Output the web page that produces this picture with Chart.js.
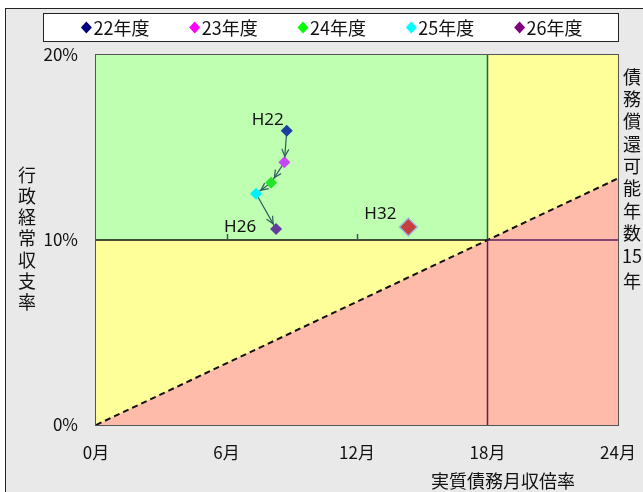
<!DOCTYPE html>
<html lang="ja">
<head>
<meta charset="utf-8">
<script src="https://cdn.jsdelivr.net/npm/chart.js@4.4.0/dist/chart.umd.min.js"></script>
<style>
  html, body { margin: 0; padding: 0; background: #fff; }
  #wrap { position: relative; width: 643px; height: 492px; overflow: hidden; }
  #frame { position: absolute; left: 5px; top: 8px; right: 0; bottom: 0; background: #e9e9e9; border-left: 1px solid #222; border-top: 1px solid #222; }
  canvas { position: absolute; left: 0; top: 0; }
</style>
</head>
<body>
<div id="wrap"><div id="frame"></div><canvas id="chart" width="643" height="492"></canvas></div>
<script>
const years = ['22年度', '23年度', '24年度', '25年度', '26年度'];
const debtRatio = [8.77, 8.66, 8.05, 7.36, 8.28];   // 実質債務月収倍率 (月)
const balanceRate = [15.9, 14.2, 13.1, 12.5, 10.6];  // 行政経常収支率 (%)
const pointColors = ['#1a3f9e', '#c548f5', '#22e62a', '#00f0ff', '#653c9b'];
const legendColors = ['#000080', '#ff00ff', '#00ff00', '#00ffff', '#800080'];
const pointLabels = ['H22', '', '', '', 'H26'];
const targetLabel = 'H32';
const targetPoint = { x: 14.36, y: 10.7 };
const xTicks = [0, 6, 12, 18, 24];
const yTicks = [0, 10, 20];
const midTicks = [6, 12];
const monthLimit = 18;   // 18月
const rateLimit = 10;    // 10%
const repayYears = 15;   // 債務償還可能年数
const boundaryLine = [{ x: 0, y: 0 }, { x: 24, y: 13.33 }];

const cjk = '"Noto Sans CJK JP", sans-serif';

function seg(a, b) {
    return [a, b];
}

const areaDefaults = { showLine: true, pointRadius: 0, borderWidth: 0 };

const datasets = [
    Object.assign({}, areaDefaults, {
        data: seg({ x: 0, y: 20 }, { x: 24, y: 20 }),
        fill: 'origin', backgroundColor: '#ffff99', order: 20
    }),
    Object.assign({}, areaDefaults, {
        data: seg({ x: 0, y: 20 }, { x: monthLimit, y: 20 }),
        fill: { value: rateLimit }, backgroundColor: '#bfffb1', order: 19
    }),
    {
        data: boundaryLine, showLine: true, pointRadius: 0, fill: 'origin',
        backgroundColor: '#ffbbaa', borderColor: '#111', borderWidth: 2,
        borderDash: [6, 4], order: 18
    },
    {
        data: seg({ x: 0, y: rateLimit }, { x: monthLimit, y: rateLimit }),
        showLine: true, pointRadius: 0, borderColor: '#111', borderWidth: 1.5, order: 10
    },
    {
        data: seg({ x: monthLimit, y: rateLimit }, { x: 24, y: rateLimit }),
        showLine: true, pointRadius: 0, borderColor: '#5a1f5a', borderWidth: 1.5, order: 10
    },
    {
        data: seg({ x: monthLimit, y: rateLimit }, { x: monthLimit, y: 20 }),
        showLine: true, pointRadius: 0, borderColor: '#2f5c4a', borderWidth: 1.5, order: 10
    },
    {
        data: seg({ x: monthLimit, y: 0 }, { x: monthLimit, y: rateLimit }),
        showLine: true, pointRadius: 0, borderColor: '#5a1f5a', borderWidth: 1.5, order: 10
    },
    {
        data: debtRatio.map((x, i) => ({ x: x, y: balanceRate[i] })),
        showLine: true, pointRadius: 0, borderColor: '#2e5b5b', borderWidth: 1.2, order: 5
    }
];

years.forEach((label, i) => {
    datasets.push({
        label: label,
        data: [{ x: debtRatio[i], y: balanceRate[i] }],
        pointStyle: 'rectRot', pointRadius: 6,
        backgroundColor: pointColors[i], borderColor: pointColors[i], borderWidth: 0,
        order: 1
    });
});

datasets.push({
    label: targetLabel,
    data: [targetPoint],
    pointStyle: 'rectRot', pointRadius: 9,
    backgroundColor: '#c44040', borderColor: '#9cc0e0', borderWidth: 1.5,
    order: 1
});

// arrows, small ticks, border, labels
const overlay = {
    id: 'overlay',
    afterDatasetsDraw(chart) {
        const { ctx, chartArea, scales } = chart;
        const xs = scales.x, ys = scales.y;
        ctx.save();

        // ticks on the 10% line
        ctx.strokeStyle = '#2e5b5b';
        ctx.lineWidth = 1.5;
        midTicks.forEach(v => {
            const px = Math.round(xs.getPixelForValue(v)) + 0.5;
            const py = ys.getPixelForValue(rateLimit);
            ctx.beginPath();
            ctx.moveTo(px, py);
            ctx.lineTo(px, py - 6);
            ctx.stroke();
        });

        // arrow heads
        ctx.lineWidth = 1.2;
        for (let i = 1; i < debtRatio.length; i++) {
            const x0 = xs.getPixelForValue(debtRatio[i - 1]), y0 = ys.getPixelForValue(balanceRate[i - 1]);
            const x1 = xs.getPixelForValue(debtRatio[i]), y1 = ys.getPixelForValue(balanceRate[i]);
            const ang = Math.atan2(y1 - y0, x1 - x0);
            const tx = x1 - Math.cos(ang) * 6, ty = y1 - Math.sin(ang) * 6;
            ctx.beginPath();
            ctx.moveTo(tx - Math.cos(ang - 0.45) * 8, ty - Math.sin(ang - 0.45) * 8);
            ctx.lineTo(tx, ty);
            ctx.lineTo(tx - Math.cos(ang + 0.45) * 8, ty - Math.sin(ang + 0.45) * 8);
            ctx.stroke();
        }

        // plot border
        ctx.strokeStyle = '#555';
        ctx.lineWidth = 1;
        ctx.strokeRect(chartArea.left - 0.5, chartArea.top - 0.5,
            chartArea.right - chartArea.left + 1, chartArea.bottom - chartArea.top + 1);
        ctx.restore();
    },
    afterDraw(chart) {
        const { ctx, scales } = chart;
        const xs = scales.x, ys = scales.y;
        ctx.save();
        ctx.textAlign = 'center';
        ctx.textBaseline = 'middle';
        ctx.fillStyle = '#111';

        // point labels
        ctx.font = '17px "Noto Sans", sans-serif';
        const offs = [[-19, -11], null, null, null, [-36, -2]];
        pointLabels.forEach((t, i) => {
            if (!t) return;
            ctx.fillText(t, xs.getPixelForValue(debtRatio[i]) + offs[i][0],
                ys.getPixelForValue(balanceRate[i]) + offs[i][1]);
        });
        ctx.fillText(targetLabel, xs.getPixelForValue(targetPoint.x) - 28,
            ys.getPixelForValue(targetPoint.y) - 13);

        // axis titles
        ctx.font = '18px ' + cjk;
        ctx.fillText('実質債務月収倍率', 503, 481);
        Array.from('行政経常収支率').forEach((c, i) => ctx.fillText(c, 27, 175 + i * 21.2));
        Array.from('債務償還可能年数').forEach((c, i) => ctx.fillText(c, 632, 77 + i * 22.3));
        ctx.fillText(String(repayYears), 632, 256);
        ctx.fillText('年', 632, 281);

        // legend
        ctx.fillStyle = '#fff';
        ctx.strokeStyle = '#222';
        ctx.lineWidth = 1;
        ctx.fillRect(43.5, 13.5, 575, 28);
        ctx.strokeRect(43.5, 13.5, 575, 28);
        ctx.textAlign = 'left';
        years.forEach((t, i) => {
            const dx = 330.5 + (i - 2) * 108.3 - 27.5;
            const dy = 27.5;
            ctx.fillStyle = legendColors[i];
            ctx.beginPath();
            ctx.moveTo(dx, dy - 6);
            ctx.lineTo(dx + 5.5, dy);
            ctx.lineTo(dx, dy + 6);
            ctx.lineTo(dx - 5.5, dy);
            ctx.closePath();
            ctx.fill();
            ctx.fillStyle = '#111';
            ctx.fillText(t, dx + 7, dy + 1);
        });
        ctx.restore();
    }
};

new Chart(document.getElementById('chart'), {
    type: 'scatter',
    data: { datasets: datasets },
    options: {
        responsive: false,
        animation: false,
        layout: { padding: { left: 0, top: 55, right: 25, bottom: 0 } },
        plugins: { legend: { display: false }, tooltip: { enabled: false } },
        scales: {
            x: {
                type: 'linear', min: 0, max: 24,
                grid: { display: false }, border: { display: false },
                afterBuildTicks: s => { s.ticks = xTicks.map(v => ({ value: v })); },
                afterFit: s => { s.height = 67; s.paddingLeft = 0; s.paddingRight = 0; },
                ticks: {
                    padding: 9, color: '#111', maxRotation: 0,
                    font: { family: cjk, size: 17 },
                    callback: v => v + '月'
                }
            },
            y: {
                type: 'linear', min: 0, max: 20,
                grid: { display: false }, border: { display: false },
                afterBuildTicks: s => { s.ticks = yTicks.map(v => ({ value: v })); },
                afterFit: s => { s.width = 96; s.paddingTop = 0; s.paddingBottom = 0; },
                ticks: {
                    padding: 10, color: '#111',
                    font: { family: cjk, size: 17 },
                    callback: v => v + '%'
                }
            }
        }
    },
    plugins: [overlay]
});
</script>
</body>
</html>
